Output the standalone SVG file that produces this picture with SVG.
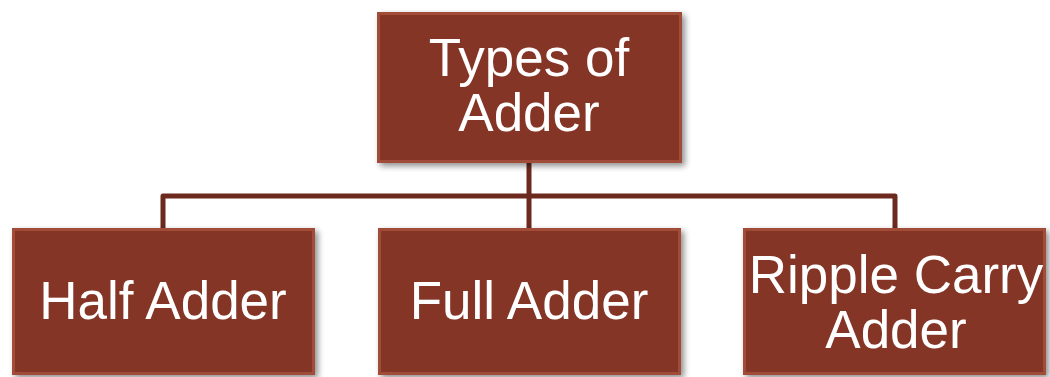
<svg xmlns="http://www.w3.org/2000/svg" width="1050" height="377" viewBox="0 0 1050 377">
  <defs>
    <filter id="shadow" x="-10%" y="-10%" width="125%" height="130%">
      <feGaussianBlur in="SourceAlpha" stdDeviation="3"/>
      <feOffset dx="3" dy="3" result="b"/>
      <feComponentTransfer><feFuncA type="linear" slope="0.45"/></feComponentTransfer>
      <feMerge><feMergeNode/><feMergeNode in="SourceGraphic"/></feMerge>
    </filter>
  </defs>
  <style>
    .box { fill: #843426; filter: url(#shadow); }
    .bevel { fill: none; stroke: #a14c39; stroke-width: 3; }
    .label { font-family: "Liberation Sans", Arial, sans-serif; font-size: 53px; fill: #ffffff; text-anchor: middle; }
    .conn { fill: none; stroke: #6b2a1d; stroke-width: 5; stroke-linejoin: round; }
  </style>

  <g id="connectors">
    <path class="conn" d="M529,163 V228"/>
    <path class="conn" d="M163,228 V196 H895 V228"/>
  </g>

  <g id="root">
    <rect class="box" x="377" y="12" width="305" height="151"/>
    <rect class="bevel" x="378.5" y="13.5" width="302" height="148"/>
    <text class="label" x="529" y="76">Types of</text>
    <text class="label" x="529" y="131">Adder</text>
  </g>

  <g id="half-adder">
    <rect class="box" x="12" y="228" width="303" height="147"/>
    <rect class="bevel" x="13.5" y="229.5" width="300" height="144"/>
    <text class="label" x="163" y="319">Half Adder</text>
  </g>

  <g id="full-adder">
    <rect class="box" x="378" y="228" width="303" height="147"/>
    <rect class="bevel" x="379.5" y="229.5" width="300" height="144"/>
    <text class="label" x="529" y="319">Full Adder</text>
  </g>

  <g id="ripple-carry-adder">
    <rect class="box" x="743" y="228" width="303" height="147"/>
    <rect class="bevel" x="744.5" y="229.5" width="300" height="144"/>
    <text class="label" x="896" y="293">Ripple Carry</text>
    <text class="label" x="896" y="348">Adder</text>
  </g>
</svg>
